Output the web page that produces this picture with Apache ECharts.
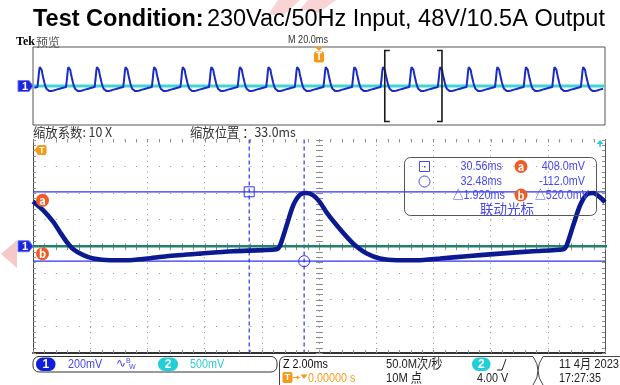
<!DOCTYPE html>
<html>
<head>
<meta charset="utf-8">
<script src="https://cdn.jsdelivr.net/npm/echarts@6.0.0/dist/echarts.min.js"></script>
<style>
html,body{margin:0;padding:0;background:#ffffff;}
#chart{width:620px;height:385px;}
</style>
</head>
<body>
<div id="chart"></div>
<script>
// ================= DATA =================
const titleBold = 'Test Condition:';
const titleRest = '230Vac/50Hz Input, 48V/10.5A Output';
const brandText = 'Tek';
const previewText = '预览';
const overviewTimebase = 'M 20.0ms';
const zoomFactorLabel = '缩放系数: 10 X';
const zoomPositionLabel = '缩放位置 ：33.0ms';

const zoomPositionMs = 33.0;       // 缩放位置
const zoomHalfSpanMs = 10.0;       // 2.00 ms/div x 10 div / 2
const overviewHalfSpanMs = 100.0;  // 20.0 ms/div x 10 div / 2
const ch1MvPerDiv = 200;

// CH1 trace inside the zoom window (ms, mV)
const ch1TimesMs = [23.00, 23.36, 23.71, 23.94, 24.18, 24.41, 24.76, 25.11, 25.69, 26.28,
  26.98, 27.67, 28.84, 30.00, 31.52, 31.64, 31.87, 32.10, 32.34, 32.57,
  32.80, 33.03, 33.27, 33.62, 33.97, 34.26, 34.67, 35.13, 35.72, 36.42,
  37.23, 38.16, 39.33, 40.49, 41.54, 41.66, 41.89, 42.13, 42.36, 42.59,
  42.83, 43.00];
const ch1ValuesMv = [336, 269, 182, 107, 32, -22, -67, -92, -105, -105,
  -92, -75, -55, -37, -22, 7, 157, 307, 387, 399,
  381, 331, 252, 157, 70, 7, -55, -92, -105, -105,
  -92, -75, -55, -37, -22, 7, 157, 307, 387, 399,
  366, 330];
const ch1RippleStartMs = 32.57;   // a peak
const ch1RipplePeriodMs = 10.0;   // peak-to-peak spacing (100 Hz)

// CH2 trace (flat at its ground)
const ch2TimesMs = [-100, 100];
const ch2ValuesMv = [0, 0];

// cursors
const cursorTimesMs = [30.56, 32.48];
const cursorLevelsMv = [408.0, -112.0];
const readoutTimes = ['30.56ms', '32.48ms', '△1.920ms'];
const readoutLevels = ['408.0mV', '-112.0mV', '△520.0mV'];
const readoutFooter = '联动光标';

// status bar
const ch1ScaleText = '200mV';
const ch2ScaleText = '500mV';
const horizText = 'Z 2.00ms';
const trigPosText = '0.00000 s';
const sampleRateText = '50.0M次/秒';
const recordText = '10M 点';
const trigLevelText = '4.00 V';
const dateText = '11 4月 2023';
const timeText = '17:27:35';

// ================= CHART =================
const FN = "'Liberation Sans','Noto Sans CJK SC',sans-serif";
const FC = "'Noto Sans CJK SC','Noto Sans',sans-serif";
const NARROW = 0.83;
const BLUE_TXT = '#4747ee';
const CURSOR = '#3030f4';
const ORANGE = '#f39a1b';
const RED_O = '#f05a24';

const zMin = -zoomHalfSpanMs, zMax = zoomHalfSpanMs;
const ch1Zoom = ch1TimesMs.map((t, i) => [t - zoomPositionMs, ch1ValuesMv[i]]);
const ch2Zoom = ch2TimesMs.map((t, i) => [t, ch2ValuesMv[i]]);
const cursorPts = cursorTimesMs.map((t, i) => [t - zoomPositionMs, cursorLevelsMv[i]]);

// overview: the measured ripple cycle repeated over the 200 ms record
const cycle = ch1TimesMs.map((t, i) => [t, ch1ValuesMv[i]])
  .filter(p => p[0] >= ch1RippleStartMs && p[0] < ch1RippleStartMs + ch1RipplePeriodMs);
const ch1Overview = [];
for (let k = -14; k <= 8; k++) {
  for (const [t, v] of cycle) {
    const tt = t + k * ch1RipplePeriodMs;
    if (tt >= -overviewHalfSpanMs && tt <= overviewHalfSpanMs) ch1Overview.push([tt, v]);
  }
}

function txt(x, y, text, size, fill, align, font, opts) {
  opts = opts || {};
  const f = font || FN;
  const el = {
    type: 'text', x: x, y: y, silent: true, z: 100,
    style: {text: text, font: (opts.bold ? 'bold ' : '') + size + 'px ' + f, fill: fill,
      align: align || 'left', textAlign: align || 'left',
      verticalAlign: 'middle', textVerticalAlign: 'middle'}
  };
  if (opts.sx) el.scaleX = opts.sx;
  return el;
}
function ntxt(x, y, text, size, fill, align, bold) {
  return txt(x, y, text, size, fill, align, FN, {sx: NARROW, bold: bold});
}
function circleLetter(cx, cy, letter) {
  return [
    {type: 'circle', shape: {cx: cx, cy: cy, r: 6.5}, style: {fill: RED_O}, z: 100, silent: true},
    {type: 'text', x: cx, y: cy + 0.5, z: 101, silent: true,
      style: {text: letter, font: 'bold 11px ' + FC, fill: '#fff', align: 'center', textAlign: 'center', verticalAlign: 'middle', textVerticalAlign: 'middle'}}
  ];
}
function chMarker(x, cy) {
  return [
    {type: 'polygon', shape: {points: [[x - 15, cy - 5.5], [x - 4, cy - 5.5], [x, cy], [x - 4, cy + 5.5], [x - 15, cy + 5.5]]},
      style: {fill: '#1c24dd', stroke: '#6d74f0', lineWidth: 1, lineJoin: 'round'}, z: 100, silent: true},
    {type: 'text', x: x - 8, y: cy + 0.5, z: 101, silent: true,
      style: {text: '1', font: 'bold 11px ' + FN, fill: '#fff', align: 'center', textAlign: 'center', verticalAlign: 'middle', textVerticalAlign: 'middle'}}
  ];
}

// main graticule ticks (center cross + edges)
function renderTicks(params, api) {
  if (params.dataIndex !== 0) return;
  const tl = api.coord([zMin, 800]);
  const br = api.coord([zMax, -800]);
  const c = api.coord([0, 0]);
  const ch = [];
  const st = {stroke: '#8c8c8c', lineWidth: 1};
  for (let v = -800; v <= 800.001; v += ch1MvPerDiv / 5) {
    const y = Math.round(api.coord([0, v])[1]) + 0.5;
    ch.push({type: 'line', shape: {x1: c[0] - 3, y1: y, x2: c[0] + 4, y2: y}, style: st});
    ch.push({type: 'line', shape: {x1: tl[0], y1: y, x2: tl[0] + 3, y2: y}, style: st});
    ch.push({type: 'line', shape: {x1: br[0] - 3, y1: y, x2: br[0], y2: y}, style: st});
  }
  for (let t = zMin; t <= zMax + 0.001; t += 0.4) {
    const x = Math.round(api.coord([t, 0])[0]) + 0.5;
    ch.push({type: 'line', shape: {x1: x, y1: c[1] - 3, x2: x, y2: c[1] + 4}, style: st});
    ch.push({type: 'line', shape: {x1: x, y1: tl[1], x2: x, y2: tl[1] + 3}, style: st});
    ch.push({type: 'line', shape: {x1: x, y1: br[1] - 3, x2: x, y2: br[1]}, style: st});
  }
  return {type: 'group', children: ch, silent: true};
}

// cursors: horizontal solid level lines, vertical dashed time lines, and their handles
function renderCursor(params, api) {
  const cs = params.coordSys;
  const p = api.coord([api.value(0), api.value(1)]);
  const x = p[0];
  const y = p[1];
  const ch = [
    {type: 'line', shape: {x1: cs.x, y1: y, x2: cs.x + cs.width, y2: y}, style: {stroke: CURSOR, lineWidth: 1.2}},
    {type: 'line', shape: {x1: x, y1: cs.y, x2: x, y2: cs.y + cs.height}, style: {stroke: CURSOR, lineWidth: 1.2, lineDash: [4, 3]}}
  ];
  if (params.dataIndex === 0) {
    ch.push({type: 'rect', shape: {x: x - 5, y: y - 5, width: 10, height: 10}, style: {fill: null, stroke: CURSOR, lineWidth: 1}});
  } else {
    ch.push({type: 'circle', shape: {cx: x, cy: y, r: 5.5}, style: {fill: null, stroke: CURSOR, lineWidth: 1}});
  }
  return {type: 'group', children: ch, silent: true};
}

// main-window markers (channel marker, cursor letters)
function renderMainMarkers(params, api) {
  if (params.dataIndex !== 0) return;
  const g = api.coord([zMin, 0]);
  const a = api.coord([zMin, cursorLevelsMv[0]]);
  const b = api.coord([zMin, cursorLevelsMv[1]]);
  const ch = [];
  ch.push(...chMarker(g[0], g[1]));
  ch.push(...circleLetter(a[0] + 9.5, a[1] + 8.5, 'a'));
  ch.push(...circleLetter(b[0] + 9.5, b[1] - 7.5, 'b'));
  return {type: 'group', children: ch};
}

// overview decorations: zoom bracket, trigger marker, channel marker
function renderOverview(params, api) {
  if (params.dataIndex !== 0) return;
  const l = api.coord([zoomPositionMs - zoomHalfSpanMs, 0]);
  const r = api.coord([zoomPositionMs + zoomHalfSpanMs, 0]);
  const top = api.coord([0, 800])[1];
  const bot = api.coord([0, -800])[1];
  const t0 = api.coord([0, 0]);
  const st = {stroke: '#1a1a1a', lineWidth: 1.6, fill: null};
  const y1 = top + 3.5, y2 = bot - 3.5;
  const ch = [
    {type: 'polyline', shape: {points: [[l[0] + 5, y1], [l[0], y1], [l[0], y2], [l[0] + 5, y2]]}, style: st},
    {type: 'polyline', shape: {points: [[r[0] - 5, y1], [r[0], y1], [r[0], y2], [r[0] - 5, y2]]}, style: st},
    {type: 'polygon', shape: {points: [[t0[0] - 4, top], [t0[0] + 4, top], [t0[0], top + 4]]}, style: {fill: ORANGE}},
    {type: 'rect', shape: {x: t0[0] - 5, y: top + 4.5, width: 10, height: 11, r: 2}, style: {fill: ORANGE}},
    {type: 'text', x: t0[0], y: top + 10.5, style: {text: 'T', font: 'bold 10px ' + FN, fill: '#fff', align: 'center', textAlign: 'center', verticalAlign: 'middle', textVerticalAlign: 'middle'}}
  ];
  ch.push(...chMarker(api.coord([-overviewHalfSpanMs, 0])[0], t0[1]));
  return {type: 'group', children: ch};
}

const chart = echarts.init(document.getElementById('chart'), null, {renderer: 'canvas'});

const SB = {stroke: '#444', lineWidth: 1, fill: null};
const graphics = [
  // watermark fragments
  {type: 'polygon', shape: {points: [[278, 0], [300, 0], [284, 15], [268, 15]]}, style: {fill: '#f9d4d4'}, z: 0, silent: true},
  {type: 'polygon', shape: {points: [[308, 0], [336, 0], [318, 13], [300, 9]]}, style: {fill: '#f9d4d4'}, z: 0, silent: true},
  {type: 'polygon', shape: {points: [[1, 254], [17, 240], [17, 268]]}, style: {fill: '#f6c9c9'}, z: 0, silent: true},
  // title
  {type: 'text', x: 33, y: 20, z: 100, silent: true,
    style: {text: '{b|' + titleBold + '} {r|' + titleRest + '}', verticalAlign: 'middle', textVerticalAlign: 'middle',
      rich: {b: {font: "bold 23.5px 'Liberation Sans',Arial,sans-serif", fill: '#000', color: '#000'},
             r: {font: "23.5px 'Liberation Sans',Arial,sans-serif", fill: '#000', color: '#000'}}}},
  txt(16, 42, brandText, 12, '#000', 'left', "'Liberation Serif',serif", {bold: true}),
  txt(36, 42, previewText, 12, '#555', 'left', FC),
  ntxt(308, 40, overviewTimebase, 11, '#333', 'center'),
  txt(33, 132, zoomFactorLabel, 13, '#333', 'left', FC, {sx: 0.95}),
  txt(190, 132, zoomPositionLabel, 13, '#333', 'left', FC, {sx: 0.95}),
  // main T marker (top-left) and ch2 trigger arrow (top-right)
  {type: 'polygon', shape: {points: [[34, 150], [38, 146], [38, 154]]}, style: {fill: ORANGE}, z: 100, silent: true},
  {type: 'rect', shape: {x: 37, y: 145, width: 9.5, height: 10, r: 2}, style: {fill: ORANGE}, z: 100, silent: true},
  txt(41.8, 150.5, 'T', 9, '#fff', 'center', FN, {bold: true}),
  {type: 'polygon', shape: {points: [[600, 140], [596.5, 144], [603.5, 144]]}, style: {fill: '#2ccad6'}, z: 100, silent: true},
  {type: 'rect', shape: {x: 599.3, y: 143, width: 1.6, height: 4}, style: {fill: '#2ccad6'}, z: 100, silent: true},
  // cursor readout box
  {type: 'rect', shape: {x: 404.5, y: 157.5, width: 192, height: 58, r: 6}, style: {fill: null, stroke: '#555', lineWidth: 1}, z: 90, silent: true},
  {type: 'rect', shape: {x: 419.5, y: 161.5, width: 10, height: 10}, style: {fill: null, stroke: BLUE_TXT, lineWidth: 1}, z: 100, silent: true},
  {type: 'rect', shape: {x: 424, y: 166, width: 1.5, height: 1.5}, style: {fill: BLUE_TXT}, z: 100, silent: true},
  {type: 'circle', shape: {cx: 424.5, cy: 181.5, r: 5.5}, style: {fill: null, stroke: BLUE_TXT, lineWidth: 1}, z: 100, silent: true},
  ntxt(502, 166.5, readoutTimes[0], 13, BLUE_TXT, 'right'),
  ntxt(502, 181.5, readoutTimes[1], 13, BLUE_TXT, 'right'),
  ntxt(505, 195, readoutTimes[2], 13, BLUE_TXT, 'right'),
  ...circleLetter(521, 166.5, 'a'),
  ...circleLetter(521, 195, 'b'),
  ntxt(585, 166.5, readoutLevels[0], 13, BLUE_TXT, 'right'),
  ntxt(585, 181.5, readoutLevels[1], 13, BLUE_TXT, 'right'),
  ntxt(535, 195, readoutLevels[2], 13, BLUE_TXT, 'left'),
  txt(507, 209, readoutFooter, 13.5, BLUE_TXT, 'center', FC),
  // status bar
  {type: 'rect', shape: {x: 33, y: 356.5, width: 244, height: 15.5, r: 6}, style: {fill: '#fff', stroke: '#333', lineWidth: 1}, z: 90, silent: true},
  {type: 'rect', shape: {x: 36, y: 357.5, width: 19.5, height: 13.5, r: 6.5}, style: {fill: '#1020d6'}, z: 100, silent: true},
  txt(45.8, 364.5, '1', 12, '#fff', 'center', FN, {bold: true}),
  ntxt(68, 364.5, ch1ScaleText, 13, BLUE_TXT, 'left'),
  txt(116, 363.5, '∿', 12, BLUE_TXT, 'left', "'DejaVu Sans',sans-serif"),
  txt(126, 361, 'B', 7, BLUE_TXT, 'left'),
  txt(129, 367, 'W', 7, BLUE_TXT, 'left'),
  {type: 'rect', shape: {x: 158, y: 357.5, width: 20, height: 13.5, r: 6.5}, style: {fill: '#22cfd8'}, z: 100, silent: true},
  txt(168, 364.5, '2', 12, '#fff', 'center', FN, {bold: true}),
  ntxt(190, 364.5, ch2ScaleText, 13, '#2ecad2', 'left'),
  // second / third status boxes
  {type: 'line', shape: {x1: 286, y1: 356.5, x2: 533, y2: 356.5}, style: SB, z: 90, silent: true},
  {type: 'bezierCurve', shape: {x1: 533, y1: 356.5, cpx1: 543, cpy1: 370.5, x2: 533, y2: 385}, style: SB, z: 90, silent: true},
  {type: 'bezierCurve', shape: {x1: 279.5, y1: 363, cpx1: 279.5, cpy1: 356.5, x2: 286, y2: 356.5}, style: SB, z: 90, silent: true},
  {type: 'line', shape: {x1: 279.5, y1: 363, x2: 279.5, y2: 386}, style: SB, z: 90, silent: true},
  {type: 'line', shape: {x1: 543, y1: 356.5, x2: 622, y2: 356.5}, style: SB, z: 90, silent: true},
  {type: 'bezierCurve', shape: {x1: 543, y1: 356.5, cpx1: 533, cpy1: 370.5, x2: 543, y2: 385}, style: SB, z: 90, silent: true},
  ntxt(283, 364, horizText, 13, '#111', 'left'),
  {type: 'rect', shape: {x: 282.5, y: 372, width: 10, height: 11, r: 2}, style: {fill: ORANGE}, z: 100, silent: true},
  txt(287.5, 377.8, 'T', 9, '#fff', 'center', FN, {bold: true}),
  {type: 'line', shape: {x1: 293, y1: 377.5, x2: 299, y2: 377.5}, style: {stroke: ORANGE, lineWidth: 1.2}, z: 100, silent: true},
  {type: 'polygon', shape: {points: [[297, 375.5], [300, 377.5], [297, 379.5]]}, style: {fill: ORANGE}, z: 100, silent: true},
  {type: 'polygon', shape: {points: [[300.5, 374.5], [307.5, 374.5], [304, 379]]}, style: {fill: ORANGE}, z: 100, silent: true},
  ntxt(308, 378, trigPosText, 13, ORANGE, 'left'),
  txt(386, 364, sampleRateText, 13, '#222', 'left', FN, {sx: 0.86}),
  txt(386, 378, recordText, 13, '#222', 'left', FN, {sx: 0.86}),
  {type: 'rect', shape: {x: 472, y: 357.5, width: 18.5, height: 13.5, r: 6.5}, style: {fill: '#22cfd8'}, z: 100, silent: true},
  txt(481.3, 364.5, '2', 12, '#fff', 'center', FN, {bold: true}),
  {type: 'polyline', shape: {points: [[497, 370], [502, 370], [506, 359]]}, style: {stroke: '#222', lineWidth: 1, fill: null}, z: 100, silent: true},
  ntxt(477, 378, trigLevelText, 13, '#222', 'left'),
  txt(559, 364, dateText, 13, '#222', 'left', FN, {sx: 0.86}),
  ntxt(559, 378, timeText, 13, '#222', 'left')
];

const option = {
  animation: false,
  backgroundColor: '#ffffff',
  grid: [
    {left: 33, top: 47, width: 572, height: 78, show: true, borderColor: '#555', borderWidth: 1, backgroundColor: 'transparent'},
    {left: 33, top: 139.5, width: 572, height: 213.5, show: false}
  ],
  xAxis: [
    {gridIndex: 0, type: 'value', min: -overviewHalfSpanMs, max: overviewHalfSpanMs, show: false},
    {gridIndex: 1, type: 'value', min: zMin, max: zMax, interval: 2,
      axisLine: {show: true, onZero: false, lineStyle: {color: '#333', width: 2}},
      axisTick: {show: false}, axisLabel: {show: false},
      splitLine: {show: true, lineStyle: {color: '#8e8e8e', width: 1, type: [1, 4.35]}}}
  ],
  yAxis: [
    {gridIndex: 0, type: 'value', min: -800, max: 800, show: false},
    {gridIndex: 1, type: 'value', min: -800, max: 800, interval: ch1MvPerDiv,
      axisLine: {show: true, onZero: false, lineStyle: {color: '#444', width: 1}},
      axisTick: {show: false}, axisLabel: {show: false},
      splitLine: {show: true, lineStyle: {color: '#8e8e8e', width: 1, type: [1, 10.44]}}},
    {gridIndex: 1, type: 'value', min: -800, max: 800, interval: ch1MvPerDiv, position: 'right',
      axisLine: {show: true, onZero: false, lineStyle: {color: '#555', width: 1}},
      axisTick: {show: false}, axisLabel: {show: false}, splitLine: {show: false}}
  ],
  series: [
    {type: 'line', name: 'ov-ch2', xAxisIndex: 0, yAxisIndex: 0, data: ch2Zoom, symbol: 'none', silent: true,
      lineStyle: {color: '#3fd6d2', width: 3}, z: 2},
    {type: 'line', name: 'ov-ch1', xAxisIndex: 0, yAxisIndex: 0, data: ch1Overview, symbol: 'none', silent: true,
      lineStyle: {color: '#1a2bc6', width: 2}, z: 3},
    {type: 'custom', name: 'ov-deco', xAxisIndex: 0, yAxisIndex: 0, data: [[0, 0]], renderItem: renderOverview, silent: true, z: 5, clip: false},
    {type: 'custom', name: 'ticks', xAxisIndex: 1, yAxisIndex: 1, data: [[0, 0]], renderItem: renderTicks, silent: true, z: 1},
    {type: 'custom', name: 'cursors', xAxisIndex: 1, yAxisIndex: 1, data: cursorPts, renderItem: renderCursor, silent: true, z: 2, clip: false},
    {type: 'line', name: 'ch2', xAxisIndex: 1, yAxisIndex: 1, data: ch2Zoom, symbol: 'none', silent: true,
      lineStyle: {color: '#23806f', width: 2.5}, z: 3},
    {type: 'line', name: 'ch1', xAxisIndex: 1, yAxisIndex: 1, data: ch1Zoom, symbol: 'none', silent: true, smooth: 0.25,
      lineStyle: {color: '#0c1a92', width: 4.6}, z: 4},
    {type: 'custom', name: 'main-markers', xAxisIndex: 1, yAxisIndex: 1, data: [[0, 0]], renderItem: renderMainMarkers, silent: true, z: 7, clip: false}
  ],
  graphic: {elements: graphics}
};
chart.setOption(option);
</script>
</body>
</html>
